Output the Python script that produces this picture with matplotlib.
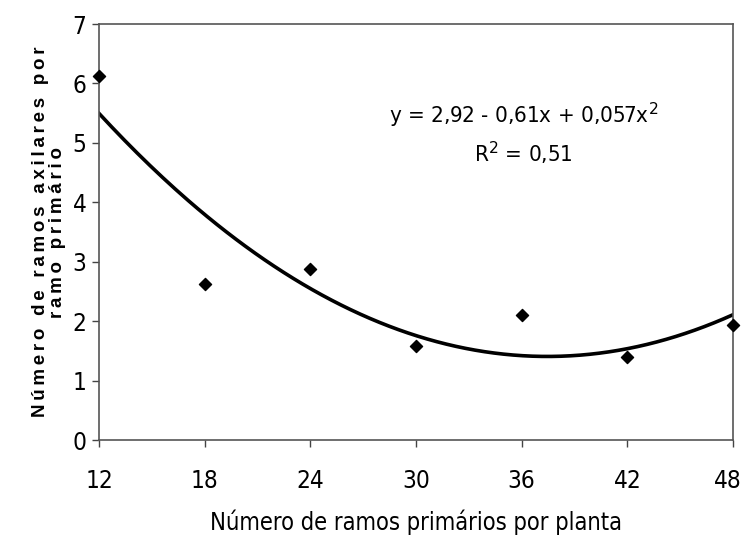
import numpy as np
import matplotlib
matplotlib.use("Agg")
import matplotlib.pyplot as plt
from matplotlib.transforms import ScaledTranslation

# dados
ramos_primarios = [12, 18, 24, 30, 36, 42, 48]
ramos_axilares = [6.13, 2.63, 2.88, 1.58, 2.10, 1.40, 1.94]
x_ticks = [12, 18, 24, 30, 36, 42, 48]
y_ticks = [0, 1, 2, 3, 4, 5, 6, 7]

narrow = dict(family="DejaVu Sans", stretch="condensed")


def espacado(texto):
    # espaço fino entre as letras, como no rótulo original
    return "\u2009".join(texto)


fig = plt.figure(figsize=(7.43, 5.40), dpi=100)
ax = fig.add_axes([99 / 743, 1 - 440 / 540, (733 - 99) / 743, (440 - 24) / 540])

# linha de tendência polinomial (2ª ordem)
coef = np.polyfit(ramos_primarios, ramos_axilares, 2)
xs = np.linspace(12, 48, 200)
ax.plot(xs, np.polyval(coef, xs), color="black", lw=2.6, zorder=2)

ax.scatter(ramos_primarios, ramos_axilares, marker="D", s=38, color="black",
           zorder=3, clip_on=False)

ax.set_xlim(12, 48)
ax.set_ylim(0, 7)
ax.set_xticks(x_ticks)
ax.set_yticks(y_ticks)
ax.tick_params(direction="out", length=5, width=1, colors="#444444",
               labelcolor="black", labelsize=17.5)
ax.tick_params(axis="x", pad=16)
ax.tick_params(axis="y", pad=4)
for lab in ax.get_xticklabels() + ax.get_yticklabels():
    lab.set_family("DejaVu Sans")
    lab.set_stretch("condensed")
# o último rótulo encosta na borda
ultimo = ax.get_xticklabels()[-1]
ultimo.set_transform(ultimo.get_transform() + ScaledTranslation(-4 / 72, 0, fig.dpi_scale_trans))
for s in ax.spines.values():
    s.set_color("#555555")
    s.set_linewidth(1.2)

ax.set_xlabel("Número de ramos primários por planta", fontsize=17,
              labelpad=12, **narrow)
ax.set_ylabel(espacado("Número de ramos axilares por") + "\n" + espacado("ramo primário"),
              family=["Liberation Sans", "DejaVu Sans"], fontsize=13.5,
              fontweight="bold", labelpad=5, linespacing=0.95)

ax.text(0.67, 0.78, "y = 2,92 - 0,61x + 0,057x$^2$", transform=ax.transAxes,
        ha="center", va="center", fontsize=16, **narrow)
ax.text(0.67, 0.69, "R$^2$ = 0,51", transform=ax.transAxes,
        ha="center", va="center", fontsize=16, **narrow)

fig.savefig("out.png", dpi=100)
